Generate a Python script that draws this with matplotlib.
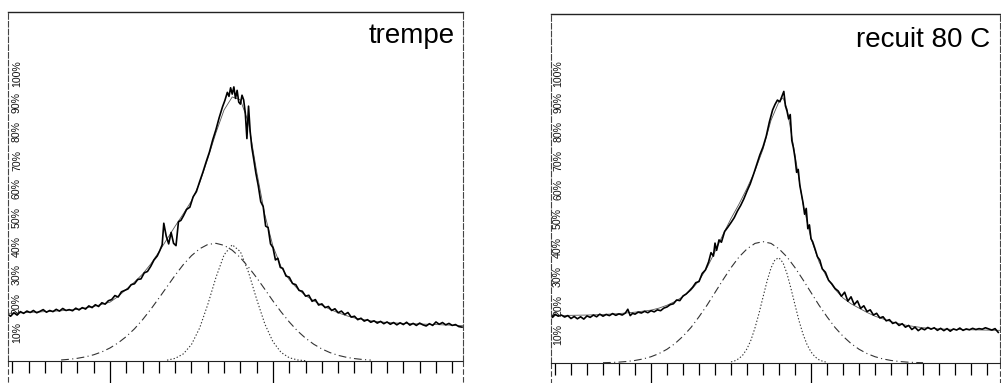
import matplotlib
matplotlib.use("Agg")
import matplotlib.pyplot as plt

plt.rcParams['font.family'] = ['Liberation Sans', 'DejaVu Sans']

# ---------------- data: panel "trempe" ----------------
titles = ["trempe", "recuit 80 C"]
pct_labels = ["10%", "20%", "30%", "40%", "50%", "60%", "70%", "80%", "90%", "100%"]
pct_values = [10, 20, 30, 40, 50, 60, 70, 80, 90, 100]

t_data_x = [3.75, 3.9, 4.1, 4.3, 4.5, 4.7, 4.9, 5.1, 5.3, 5.5,
            5.7, 5.9, 6.1, 6.3, 6.5, 6.7, 6.9, 7.1, 7.3, 7.5,
            7.7, 7.9, 8.1, 8.3, 8.5, 8.7, 8.9, 9.1, 9.3, 9.5,
            9.7, 9.9, 10.1, 10.3, 10.5, 10.7, 10.9, 11.1, 11.3, 11.5,
            11.7, 11.9, 12.1, 12.3, 12.5, 12.7, 12.9, 13.05, 13.2, 13.3,
            13.45, 13.6, 13.75, 13.9, 14.05, 14.2, 14.35, 14.5, 14.7, 14.9,
            15.1, 15.3, 15.5, 15.7, 15.9, 16.1, 16.3, 16.5, 16.7, 16.9,
            17.05, 17.2, 17.3, 17.4, 17.5, 17.6, 17.7, 17.8, 17.9, 18.0,
            18.1, 18.2, 18.3, 18.4, 18.5, 18.6, 18.7, 18.8, 18.95, 19.1,
            19.25, 19.4, 19.55, 19.7, 19.85, 20.0, 20.15, 20.3, 20.45, 20.6,
            20.8, 21.0, 21.2, 21.4, 21.6, 21.8, 22.0, 22.2, 22.4, 22.6,
            22.8, 23.0, 23.2, 23.4, 23.6, 23.8, 24.0, 24.2, 24.4, 24.6,
            24.8, 25.0, 25.2, 25.4, 25.6, 25.8, 26.0, 26.2, 26.4, 26.6,
            26.8, 27.0, 27.2, 27.4, 27.6, 27.8, 28.0, 28.2, 28.4, 28.6,
            28.8, 29.0, 29.2, 29.4, 29.6, 29.8, 30.0, 30.2, 30.4, 30.6,
            30.8, 31.0, 31.2, 31.4, 31.6]
t_data_y = [16.2, 15.6, 16.8, 16.0, 17.2, 16.6, 17.4, 16.9, 17.6, 16.8,
            17.3, 17.9, 17.0, 17.6, 17.2, 18.0, 17.4, 18.3, 17.6, 17.9,
            17.5, 18.4, 17.8, 18.6, 18.1, 19.2, 18.6, 19.6, 19.0, 20.3,
            19.8, 21.0, 21.4, 22.8, 22.3, 24.1, 24.6, 25.1, 26.6, 26.9,
            28.4, 28.6, 30.7, 31.2, 33.0, 35.2, 36.6, 38.4, 40.5, 48.0,
            43.5, 40.8, 44.8, 41.0, 40.2, 48.5, 49.0, 50.5, 52.8, 53.6,
            57.2, 59.0, 62.5, 65.8, 69.4, 72.8, 77.0, 80.6, 84.8, 88.5,
            90.8, 93.6, 92.2, 95.2, 93.0, 95.5, 91.5, 94.3, 90.2, 89.5,
            92.6, 91.0, 86.5, 77.5, 88.8, 80.0, 74.5, 71.0, 65.5, 61.0,
            55.5, 53.8, 47.0, 46.5, 40.8, 39.5, 35.2, 35.8, 32.6, 32.3,
            29.6, 29.2, 27.0, 26.6, 24.6, 24.3, 22.6, 22.9, 20.8, 21.4,
            19.5, 19.9, 18.6, 19.0, 17.6, 18.2, 16.8, 17.4, 16.2, 16.9,
            15.3, 15.6, 14.4, 14.9, 13.9, 14.4, 13.5, 14.0, 13.2, 13.8,
            13.0, 13.6, 12.8, 13.4, 12.6, 13.3, 12.7, 13.5, 12.5, 13.1,
            12.4, 13.2, 12.6, 12.2, 13.0, 12.4, 13.6, 12.8, 13.4, 12.6,
            13.1, 12.4, 12.7, 12.0, 11.8]

t_fit_x = [3.75, 5, 6, 7, 8, 9, 10, 10.5, 11, 11.5, 12, 12.5, 13, 13.5, 14, 14.5,
           15, 15.5, 16, 16.5, 17, 17.5, 18, 18.5, 19, 19.5, 20, 20.5, 21, 21.5,
           22, 22.5, 23, 23.5, 24, 24.5, 25, 26, 27, 28, 29, 30, 31.65]
t_fit_y = [16.6, 16.9, 17.2, 17.5, 18.0, 19.0, 20.5, 22.5, 25.0, 27.5, 30.3, 33.8,
           38.0, 42.5, 47.0, 51.3, 55.8, 62.0, 70.5, 79.5, 87.5, 92.0, 91.0, 83.0,
           66.0, 51.0, 40.0, 32.8, 28.3, 25.2, 22.8, 21.0, 19.4, 18.0, 16.8, 15.8,
           15.0, 14.0, 13.4, 13.1, 12.9, 12.7, 12.3]

t_broad_x = [7, 7.5, 8, 8.5, 9, 9.5, 10, 10.5, 11, 11.5, 12, 12.5, 13, 13.5, 14,
             14.5, 15, 15.5, 16, 16.5, 17, 17.5, 18, 18.5, 19, 19.5, 20, 20.5, 21,
             21.5, 22, 22.5, 23, 23.5, 24, 24.5, 25, 25.5, 26]
t_broad_y = [0.36, 0.59, 0.94, 1.45, 2.17, 3.18, 4.54, 6.31, 8.52, 11.2, 14.4, 18.0,
             21.9, 25.9, 29.9, 33.6, 36.7, 39.1, 40.6, 41.0, 40.3, 38.6, 36.0, 32.7,
             29.0, 25.0, 20.9, 17.1, 13.6, 10.5, 7.95, 5.85, 4.19, 2.92, 1.97, 1.30,
             0.84, 0.52, 0.32]

t_narrow_x = [13.5, 14, 14.5, 15, 15.5, 16, 16.5, 17, 17.5, 18, 18.5, 19, 19.5,
              20, 20.5, 21, 21.5, 22]
t_narrow_y = [0.29, 0.92, 2.48, 5.76, 11.5, 19.7, 29.1, 37.0, 40.5, 38.1, 30.9,
              21.5, 12.9, 6.7, 2.97, 1.14, 0.37, 0.1]

# ---------------- data: panel "recuit 80 C" ----------------
r_data_x = [3.75, 3.85, 4.0, 4.2, 4.4, 4.6, 4.8, 5.0, 5.2, 5.4,
            5.6, 5.8, 6.0, 6.2, 6.4, 6.6, 6.8, 7.0, 7.2, 7.4,
            7.6, 7.8, 8.0, 8.2, 8.4, 8.55, 8.7, 8.85, 9.0, 9.2,
            9.4, 9.6, 9.8, 10.0, 10.2, 10.4, 10.6, 10.8, 11.0, 11.2,
            11.4, 11.6, 11.8, 12.0, 12.2, 12.4, 12.6, 12.8, 13.0, 13.2,
            13.4, 13.6, 13.75, 13.9, 14.0, 14.1, 14.25, 14.4, 14.6, 14.8,
            15.0, 15.2, 15.4, 15.6, 15.8, 16.0, 16.2, 16.4, 16.6, 16.8,
            17.0, 17.2, 17.4, 17.6, 17.75, 17.9, 18.05, 18.2, 18.3, 18.4,
            18.5, 18.6, 18.7, 18.8, 18.9, 19.0, 19.1, 19.2, 19.3, 19.4,
            19.5, 19.6, 19.7, 19.8, 19.9, 20.0, 20.1, 20.25, 20.4, 20.55,
            20.7, 20.9, 21.1, 21.3, 21.5, 21.7, 21.9, 22.1, 22.3, 22.5,
            22.7, 22.9, 23.1, 23.3, 23.5, 23.7, 23.9, 24.1, 24.3, 24.5,
            24.7, 24.9, 25.1, 25.3, 25.5, 25.7, 25.9, 26.1, 26.3, 26.5,
            26.7, 26.9, 27.1, 27.3, 27.5, 27.7, 27.9, 28.1, 28.3, 28.5,
            28.7, 28.9, 29.1, 29.3, 29.5, 29.7, 29.9, 30.1, 30.3, 30.5,
            30.7, 30.9, 31.1, 31.3, 31.5, 31.7]
r_data_y = [17.2, 15.8, 16.9, 16.2, 16.6, 15.9, 16.4, 15.4, 16.1, 15.3,
            16.0, 15.2, 16.3, 15.8, 16.6, 16.0, 16.9, 16.2, 16.8, 16.4,
            17.1, 16.5, 17.0, 16.6, 17.3, 18.6, 16.4, 17.2, 16.9, 17.6,
            17.3, 17.9, 17.4, 18.1, 17.7, 18.4, 18.1, 19.0, 19.4, 20.2,
            20.5, 21.8, 21.6, 23.2, 23.9, 25.0, 26.2, 27.8, 28.2, 31.0,
            32.2, 35.0, 38.2, 37.0, 41.5, 39.0, 42.6, 41.8, 45.5, 47.0,
            48.6, 50.3, 52.6, 54.5, 56.8, 59.5, 62.0, 65.2, 68.6, 72.0,
            74.8, 78.5, 83.5, 87.6, 89.5, 91.0, 90.4, 92.6, 94.0, 89.0,
            87.2, 84.5, 86.0, 77.0, 74.5, 71.0, 66.0, 67.0, 61.5, 58.5,
            55.5, 51.5, 53.5, 46.5, 47.8, 43.0, 42.0, 39.5, 36.8, 35.6,
            32.6, 31.4, 28.6, 27.4, 25.8, 24.9, 23.1, 24.5, 21.4, 22.9,
            20.2, 21.5, 18.9, 19.8, 17.8, 18.4, 16.6, 17.2, 15.6, 16.0,
            14.6, 15.0, 13.7, 14.1, 13.0, 13.6, 12.4, 13.0, 11.6, 12.4,
            11.2, 12.0, 11.5, 12.3, 11.7, 12.2, 11.3, 12.0, 11.2, 11.9,
            11.0, 11.8, 11.4, 12.1, 11.3, 11.8, 11.5, 12.0, 11.6, 11.9,
            11.7, 12.2, 11.8, 11.4, 11.9, 10.6]

r_fit_x = [3.75, 5, 6, 7, 8, 9, 10, 10.5, 11, 11.5, 12, 12.5, 13, 13.5, 14, 14.5,
           15, 15.5, 16, 16.5, 17, 17.5, 18, 18.25, 18.5, 19, 19.5, 20, 20.5, 21,
           21.5, 22, 22.5, 23, 23.5, 24, 25, 26, 27, 28, 29, 30, 31.8]
r_fit_y = [16.4, 16.5, 16.6, 16.8, 17.1, 17.6, 18.3, 19.0, 20.0, 21.3, 23.0, 25.2,
           28.5, 33.0, 38.5, 44.5, 50.0, 55.0, 60.5, 66.5, 74.0, 84.0, 90.5, 91.8,
           88.0, 72.0, 55.0, 43.0, 35.0, 29.5, 25.5, 22.5, 20.5, 19.0, 17.5, 16.2,
           14.3, 13.0, 12.2, 11.8, 11.6, 11.5, 11.3]

r_broad_x = [7, 7.5, 8, 8.5, 9, 9.5, 10, 10.5, 11, 11.5, 12, 12.5, 13, 13.5, 14,
             14.5, 15, 15.5, 16, 16.5, 17, 17.5, 18, 18.5, 19, 19.5, 20, 20.5, 21,
             21.5, 22, 22.5, 23, 23.5, 24, 24.5, 25, 25.5, 26, 26.5, 27]
r_broad_y = [0.1, 0.18, 0.31, 0.53, 0.88, 1.40, 2.17, 3.26, 4.76, 6.74, 9.26, 12.3,
             16.0, 20.0, 24.4, 28.8, 33.0, 36.7, 39.5, 41.4, 42.0, 41.4, 39.5, 36.7,
             33.0, 28.8, 24.4, 20.0, 16.0, 12.3, 9.26, 6.74, 4.76, 3.26, 2.17, 1.40,
             0.88, 0.53, 0.31, 0.18, 0.1]

r_narrow_x = [15, 15.25, 15.5, 15.75, 16, 16.25, 16.5, 16.75, 17, 17.25, 17.5,
              17.75, 18, 18.25, 18.5, 18.75, 19, 19.25, 19.5, 19.75, 20, 20.25,
              20.5, 20.75, 21]
r_narrow_y = [0.37, 0.78, 1.54, 2.85, 4.94, 7.98, 12.2, 17.2, 22.8, 28.3, 32.9,
              35.8, 36.4, 34.7, 30.9, 25.7, 20.1, 14.6, 10.0, 6.39, 3.82, 2.14,
              1.12, 0.55, 0.25]

major_ticks = [10, 20]
minor_ticks = [4, 5, 6, 7, 8, 9, 11, 12, 13, 14, 15, 16, 17, 18, 19,
               21, 22, 23, 24, 25, 26, 27, 28, 29, 30, 31]

# ---------------- figure ----------------
W, H = 1001, 383
fig = plt.figure(figsize=(W / 100, H / 100), dpi=100)
fig.patch.set_facecolor('white')

panels = [
    dict(box=(7.5, 463, 12, 361), xlim=(3.71, 31.66), ytop=121.6,
         data=(t_data_x, t_data_y), fit=(t_fit_x, t_fit_y),
         broad=(t_broad_x, t_broad_y), narrow=(t_narrow_x, t_narrow_y),
         lab_x=17, title_xy=(455, 43)),
    dict(box=(551, 1000, 14, 363), xlim=(3.75, 31.81), ytop=120.8,
         data=(r_data_x, r_data_y), fit=(r_fit_x, r_fit_y),
         broad=(r_broad_x, r_broad_y), narrow=(r_narrow_x, r_narrow_y),
         lab_x=558, title_xy=(990, 47)),
]

for p, title in zip(panels, titles):
    x0, x1, ytop_px, ybot_px = p['box']
    ax = fig.add_axes([x0 / W, (H - ybot_px) / H, (x1 - x0) / W, (ybot_px - ytop_px) / H])
    ax.set_xlim(*p['xlim'])
    ax.set_ylim(0, p['ytop'])
    ax.set_facecolor('none')

    ax.plot(*p['broad'], color='#333333', lw=0.8, linestyle=(0, (7, 3, 1, 3)))
    ax.plot(*p['narrow'], color='#333333', lw=0.8, linestyle=(0, (1.2, 1.8)))
    ax.plot(*p['fit'], color='#555555', lw=0.6)
    ax.plot(*p['data'], color='black', lw=1.2)

    # frame
    ax.spines['top'].set_color('#222222')
    ax.spines['top'].set_linewidth(1.0)
    for s in ('left', 'right'):
        ax.spines[s].set_color('#444444')
        ax.spines[s].set_linewidth(0.8)
        ax.spines[s].set_linestyle((0, (5, 2)))
    ax.spines['bottom'].set_color('#222222')
    ax.spines['bottom'].set_linewidth(0.8)
    ax.spines['bottom'].set_linestyle((0, (1, 1)))
    ext = -22 / (ybot_px - ytop_px)
    for xa in (0, 1):
        ax.plot([xa, xa], [0, ext], transform=ax.transAxes, clip_on=False,
                color='#444444', lw=0.8, linestyle=(0, (5, 2)))

    ax.set_xticks(major_ticks)
    ax.set_xticks(minor_ticks, minor=True)
    ax.set_yticks([])
    ax.tick_params(axis='x', which='major', direction='out', length=16, width=0.9,
                   color='black', labelbottom=False)
    ax.tick_params(axis='x', which='minor', direction='out', length=8.6, width=0.9,
                   color='black')

    # percentage labels inside the frame
    xf = (p['lab_x'] - x0) / (x1 - x0)
    for v, lab in zip(pct_values, pct_labels):
        ax.text(xf, v, lab, rotation=90, ha='center', va='center', fontsize=7.6,
                transform=ax.get_yaxis_transform(), color='#111111')

    tx, ty = p['title_xy']
    fig.text(tx / W, 1 - ty / H, title, ha='right', va='baseline', fontsize=20,
             color='black')

fig.savefig('out.png', dpi=100, facecolor='white')
